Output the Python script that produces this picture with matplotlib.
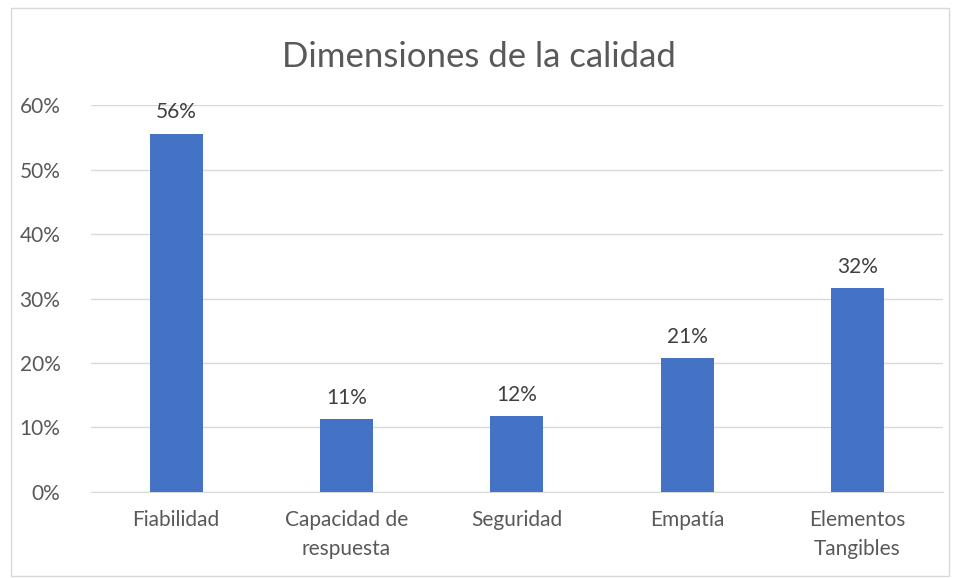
import matplotlib.pyplot as plt
from matplotlib.patches import Rectangle
from matplotlib.ticker import PercentFormatter

categories = ["Fiabilidad", "Capacidad de\nrespuesta", "Seguridad", "Empatía", "Elementos\nTangibles"]
values = [0.556, 0.113, 0.117, 0.208, 0.316]
labels = ["56%", "11%", "12%", "21%", "32%"]

plt.rcParams['font.family'] = ['Lato', 'DejaVu Sans']
text_color = "#595959"

fig = plt.figure(figsize=(9.58, 5.78), dpi=100)
ax = fig.add_axes([0.095, 0.149, 0.889, 0.669])

x = range(len(categories))
bars = ax.bar(x, values, width=0.31, color="#4472C4", zorder=3)
for b, lab in zip(bars, labels):
    ax.annotate(lab, (b.get_x() + b.get_width() / 2, b.get_height()),
                xytext=(0, 8), textcoords="offset points", ha="center", va="bottom",
                fontsize=15, color="#404040")

ax.set_xlim(-0.5, len(categories) - 0.5)
ax.set_ylim(0, 0.6)
ax.set_yticks([i / 10 for i in range(7)])
ax.yaxis.set_major_formatter(PercentFormatter(1.0, decimals=0))
ax.set_xticks(list(x))
ax.set_xticklabels(categories, linespacing=1.55)
ax.grid(axis="y", color="#d9d9d9", linewidth=1, zorder=0)
for s in ["top", "right", "left"]:
    ax.spines[s].set_visible(False)
ax.spines["bottom"].set_color("#d9d9d9")
ax.tick_params(length=0, labelsize=15, labelcolor=text_color)
ax.tick_params(axis="x", pad=13)
ax.tick_params(axis="y", pad=22)

fig.text(0.5, 0.902, "Dimensiones de la calidad", ha="center", va="center",
         fontsize=25, color=text_color)

fig.patches.append(Rectangle((0.011, 0.003), 0.98, 0.983, transform=fig.transFigure,
                             fill=False, edgecolor="#d9d9d9", linewidth=1))

fig.savefig("out.png", dpi=100)
